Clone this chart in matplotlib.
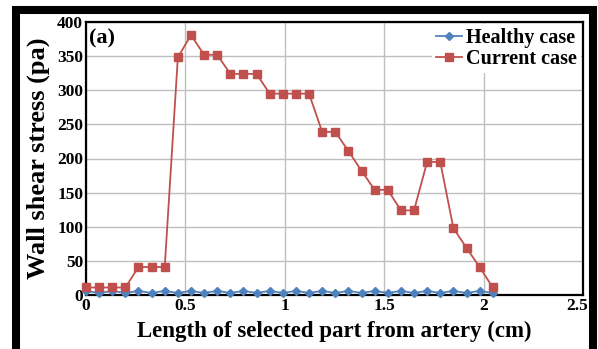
import numpy as np
import matplotlib
matplotlib.use('Agg')
import matplotlib.pyplot as plt
import matplotlib.transforms as mtransforms
from matplotlib.patches import Rectangle

plt.rcParams['font.family'] = ['Liberation Serif', 'DejaVu Serif']
plt.rcParams['font.weight'] = 'bold'

# positions along the artery (cm)
x_pos = [0.0, 0.066, 0.132, 0.198, 0.264, 0.33, 0.396, 0.462, 0.528, 0.594,
         0.66, 0.726, 0.792, 0.858, 0.924, 0.99, 1.056, 1.122, 1.188, 1.254,
         1.32, 1.386, 1.452, 1.518, 1.584, 1.65, 1.716, 1.782, 1.848, 1.914,
         1.98, 2.046]

# wall shear stress (pa)
healthy = [6, 3, 6, 3, 6, 3, 6, 3, 6, 3, 6, 3, 6, 3, 6, 3,
           6, 3, 6, 3, 6, 3, 6, 3, 6, 3, 6, 3, 6, 3, 6, 3]
current = [11, 11, 11, 11, 41, 41, 41, 348, 381, 352, 352, 324, 324, 324, 295, 295,
           295, 295, 239, 239, 211, 182, 154, 154, 124, 124, 195, 195, 98, 69, 41, 11]

xticks = [0, 0.5, 1, 1.5, 2, 2.5]
xtick_labels = ['0', '0.5', '1', '1.5', '2', '2.5']
yticks = [0, 50, 100, 150, 200, 250, 300, 350, 400]

fig = plt.figure(figsize=(5.98, 3.49), dpi=100)
ax = fig.add_axes([86/598, 1-295/349, (583-86)/598, (295-22)/349])

ax.plot(x_pos, healthy, color='#4F81BD', marker='D', markersize=4.5, lw=1.3,
        label='Healthy case', clip_on=False, zorder=3)
ax.plot(x_pos, current, color='#C0504D', marker='s', markersize=6, lw=1.3,
        label='Current case', clip_on=False, zorder=4)

ax.set_xlim(0, 2.5)
ax.set_ylim(0, 400)
ax.set_xticks(xticks)
ax.set_xticklabels(xtick_labels)
ax.set_yticks(yticks)
ax.grid(True, color='#BFBFBF', lw=1.0)
ax.set_axisbelow(True)
ax.tick_params(length=0, labelsize=12.5, pad=2)
for lab in ax.get_xticklabels() + ax.get_yticklabels():
    lab.set_fontweight('bold')
# last x label sits a bit to the left, inside the frame
last = ax.get_xticklabels()[-1]
last.set_transform(last.get_transform() +
                   mtransforms.ScaledTranslation(-6/100, 0, fig.dpi_scale_trans))
for s in ax.spines.values():
    s.set_linewidth(1.6)
    s.set_color('black')

ax.set_xlabel('Length of selected part from artery (cm)', fontsize=16.5,
              fontweight='bold', labelpad=5)
ax.set_ylabel('Wall shear stress (pa)', fontsize=19, fontweight='bold', labelpad=5)

ax.text(0.006, 0.975, '(a)', transform=ax.transAxes, fontsize=16,
        fontweight='bold', va='top', ha='left')

leg = ax.legend(loc='upper right', fontsize=14.5, frameon=True, handlelength=1.3,
                handletextpad=0.2, borderpad=0.2, labelspacing=0.05,
                borderaxespad=0.1, fancybox=False)
leg.get_frame().set_edgecolor('none')
leg.get_frame().set_facecolor('white')
leg.get_frame().set_alpha(1)
for t in leg.get_texts():
    t.set_fontweight('bold')

# thick black frame around the whole picture
fig.patches.append(Rectangle((16/598, -0.05), (593-16)/598, 1-10/349+0.05,
                             transform=fig.transFigure, fill=False,
                             edgecolor='black', lw=5.8, zorder=10))

fig.savefig('out.png', dpi=100)
